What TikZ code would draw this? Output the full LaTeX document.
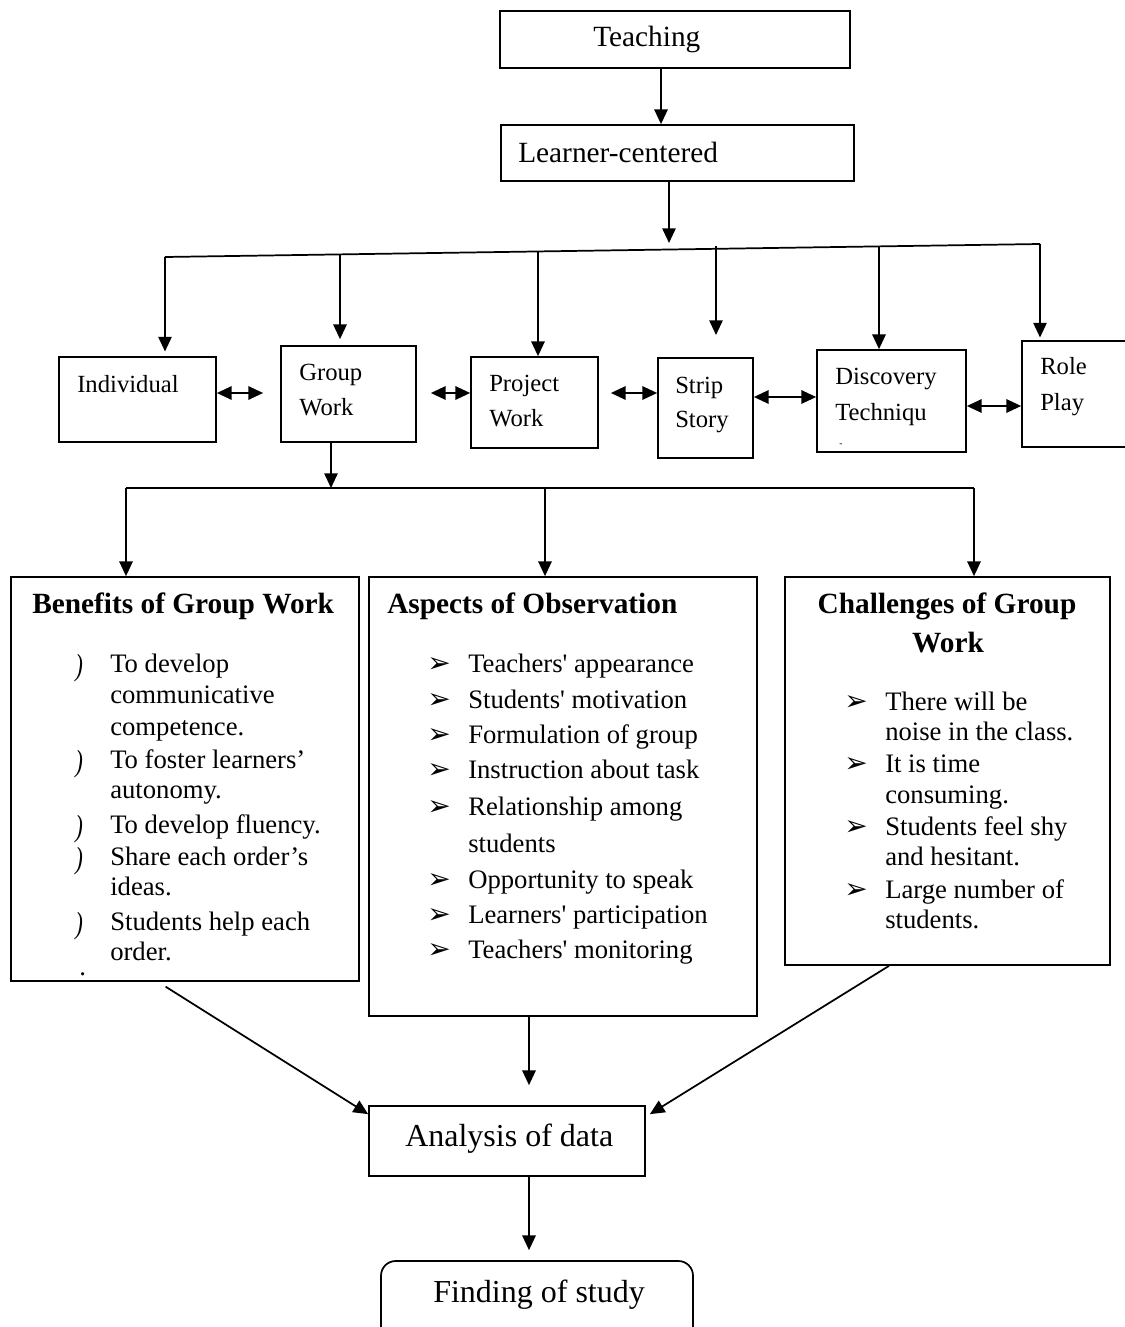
\documentclass[tikz,border=0pt]{standalone}
\usepackage{fontspec}
\setmainfont{Liberation Serif}
\newfontfamily\plainrm{Liberation Serif}
\newfontfamily\dejavu{DejaVu Sans}
\usetikzlibrary{arrows.meta,calc}
\newcommand{\mybox}[6][]{\node[box,#1,minimum width={((#5)-(#3))*0.75pt},minimum height={((#6)-(#4))*0.75pt}] (#2) at ({((#3)+(#5))/2},{((#4)+(#6))/2}) {};}
\newcommand{\jbul}{\raisebox{-2.5pt}{\scalebox{0.85}[1.15]{\itshape )}}}
\newcommand{\abul}{{\dejavu\fontsize{21}{21}\selectfont ➢}}
\tikzset{
 box/.style={draw, line width=1.3pt, inner sep=0pt, rectangle},
 t/.style={inner sep=0pt, anchor=base west, font=\fontsize{20}{24}\selectfont},
 ts/.style={t, font=\fontsize{18.5}{22}\selectfont},
 tl/.style={t, font=\fontsize{22}{26}\selectfont},
 th/.style={t, font=\fontsize{22}{26}\selectfont\bfseries},
 tb/.style={t, font=\fontsize{24}{28}\selectfont},
 ln/.style={line width=1.3pt},
 tip/.tip={Triangle[length=11pt,width=10pt]},
 arr/.style={ln, -tip},
 darr/.style={ln, tip-tip},
}
\begin{document}
\begin{tikzpicture}[x=0.75pt,y=-0.75pt]
\useasboundingbox (0,0) rectangle (1124,1327);
% boxes
\mybox{teach}{500}{11}{850}{68}
\mybox{learn}{501}{125}{854}{181}
\mybox{ind}{59}{357}{216}{442}
\mybox{grp}{281}{346}{416}{442}
\mybox{prj}{471}{357}{598}{448}
\mybox{str}{658}{358}{753}{458}
\mybox{dis}{817}{350}{966}{452}
\mybox{rol}{1022}{341}{1150}{447}
\mybox{ben}{11}{577}{359}{981}
\mybox{asp}{369}{577}{757}{1016}
\mybox{cha}{785}{577}{1110}{965}
\mybox{anl}{369}{1106}{645}{1176}
\mybox[rounded corners=11pt]{fnd}{381}{1261}{693}{1380}
% texts
\node[tl] (teacht) at (593,47) {Teaching};
\node[tl] (learnt) at (518,162) {Learner-centered};
\node[ts] (indt) at (77,392) {Individual};
\node[ts] (grpt1) at (299,380) {Group};
\node[ts] (grpt2) at (299,415) {Work};
\node[ts] (prjt1) at (489,391) {Project};
\node[ts] (prjt2) at (489,426) {Work};
\node[ts] (strt1) at (675,393) {Strip};
\node[ts] (strt2) at (675,427) {Story};
\node[ts] (dist1) at (835,384) {Discovery};
\node[ts] (dist2) at (835,420) {Techniqu};
\node[t, font=\fontsize{7}{7}\selectfont] (dism) at (839,446) {-};
\node[ts] (rolt1) at (1040,374) {Role};
\node[ts] (rolt2) at (1040,410) {Play};
% benefits
\node[th] (bent) at (32,613) {Benefits of Group Work};
\foreach \s/\y [count=\i] in {To develop/672, communicative/703, competence./735, To foster learners’/768, autonomy./798, To develop fluency./833, Share each order’s/865, ideas./895, Students help each/930, order./960}
  \node[t] (bt\i) at (110,\y) {\s};
\foreach \y [count=\i] in {672,768,833,865,930}
  \node[t] (bb\i) at (75,\y) {\jbul};
\node[t] (bdot) at (79,975) {.};
% aspects
\node[th] (aspt) at (387,613) {Aspects of Observation};
\foreach \s/\y [count=\i] in {Teachers' appearance/672, Students' motivation/708, Formulation of group/743, Instruction about task/778, Relationship among/815, students/852, Opportunity to speak/888, Learners' participation/923, Teachers' monitoring/958}
  \node[t, font=\fontsize{20}{24}\plainrm] (at\i) at (468,\y) {\s};
\foreach \y [count=\i] in {672,708,743,778,815,888,923,958}
  \node[t] (ab\i) at (427,\y) {\abul};
% challenges
\node[th, anchor=base] (chat1) at (947,613) {Challenges of Group};
\node[th, anchor=base] (chat2) at (948,652) {Work};
\foreach \s/\y [count=\i] in {There will be/710, noise in the class./740, It is time/772, consuming./803, Students feel shy/835, and hesitant./865, Large number of/898, students./928}
  \node[t] (ct\i) at (885,\y) {\s};
\foreach \y [count=\i] in {710,772,835,898}
  \node[t] (cb\i) at (844,\y) {\abul};
\node[tb] (anlt) at (405,1146) {Analysis of data};
\node[tb] (fndt) at (433,1302) {Finding of study};
% connectors
\draw[arr] (teach.south -| 661,0) -- (learn.north -| 661,0);
\coordinate (j1) at (669,243);
\draw[arr] (learn.south -| 669,0) -- (j1);
\coordinate (hl) at (165,257);
\coordinate (hr) at (1040,244);
\coordinate (d2) at (340,254.4);
\coordinate (d3) at (538,251.5);
\coordinate (d4) at (716,246);
\coordinate (d5) at (879,246.5);
\coordinate (s4) at (716,335);
\draw[ln] (hl) -- (hr);
\draw[arr, shorten >=3.5pt] (hl) -- (ind.north -| hl);
\draw[arr, shorten >=4.5pt] (d2) -- (grp.north -| d2);
\draw[arr] (d3) -- (prj.north -| d3);
\draw[arr] (d4) -- (s4);
\draw[arr] (d5) -- (dis.north -| d5);
\draw[arr, shorten >=2pt] (hr) -- (rol.north -| hr);
\draw[darr, shorten >=12.75pt] (ind.east |- 0,393) -- (grp.west |- 0,393);
\draw[darr, shorten <=10.5pt] (grp.east |- 0,393) -- (prj.west |- 0,393);
\draw[darr, shorten <=9pt] (prj.east |- 0,393) -- (str.west |- 0,393);
\draw[darr] (str.east |- 0,397) -- (dis.west |- 0,397);
\draw[darr] (dis.east |- 0,406) -- (rol.west |- 0,406);
\coordinate (j2) at (331,488);
\coordinate (gl) at (126,488);
\coordinate (gm) at (545,488);
\coordinate (gr) at (974,488);
\draw[arr] (grp.south -| j2) -- (j2);
\draw[ln] (gl) -- (gr);
\draw[arr] (gl) -- (ben.north -| gl);
\draw[arr] (gm) -- (asp.north -| gm);
\draw[arr] (gr) -- (cha.north -| gr);
\draw[arr, shorten <=6.75pt] (ben.south -| 158,0) -- ($(anl.north west)+(0,9)$);
\draw[arr, shorten >=15pt] (asp.south -| 529,0) -- (anl.north -| 529,0);
\draw[arr] (cha.south -| 889,0) -- ($(anl.north east)+(4,9)$);
\draw[arr, shorten >=7.5pt] (anl.south -| 529,0) -- (fnd.north -| 529,0);
\end{tikzpicture}
\end{document}
